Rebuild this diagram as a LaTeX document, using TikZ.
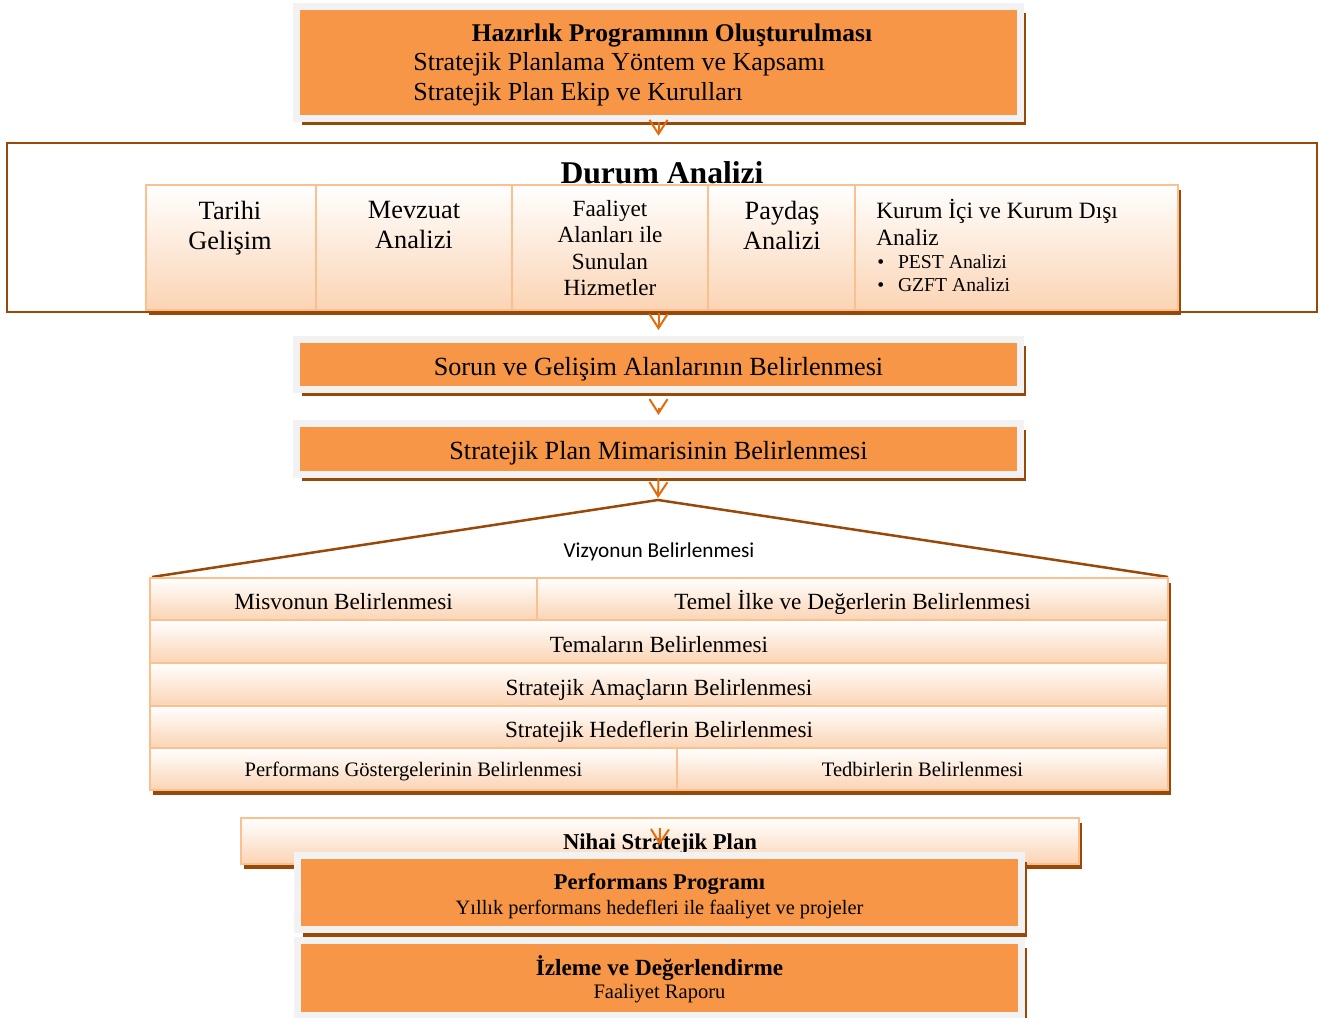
\documentclass[tikz,border=0pt]{standalone}
\usepackage{fontspec}
\setmainfont{Liberation Serif}
\newfontfamily\calibrifont{Carlito}
\usetikzlibrary{arrows.meta,positioning,shadows,calc}
\newlength\px
\setlength\px{0.2mm}
\definecolor{orng}{HTML}{F79646}
\definecolor{brn}{HTML}{984807}
\definecolor{frm}{HTML}{F2F2F2}
\definecolor{pch}{HTML}{FBD4B4}
\definecolor{pchln}{HTML}{FAC090}
\definecolor{arrc}{HTML}{E46C0A}

\begin{document}
\begin{tikzpicture}[x=0.2mm, y=-0.2mm,
  obox/.style={draw=frm, line width=1.4mm, fill=orng, inner sep=0pt, align=center,
               font=\fontsize{14.9}{17}\selectfont,
               drop shadow={fill=brn, opacity=1, shadow xshift=1mm, shadow yshift=-1.4mm}},
  cell/.style={draw=pchln, line width=0.5mm, top color=white, bottom color=pch,
               inner sep=0pt, font=\fontsize{13.2}{15}\selectfont,
               drop shadow={fill=brn, opacity=1, shadow xshift=0.6mm, shadow yshift=-1mm}},
  row/.style={cell, text height=12.5pt, text depth=0pt},
  txt/.style={inner sep=0pt, align=center, font=\fontsize{15}{17}\selectfont},
  arr/.style={draw=arrc, line width=0.4mm, -{Straight Barb[length=2.8mm, width=3.6mm]}},
  brnline/.style={draw=brn, line width=0.5mm},
]
  \useasboundingbox (0,0) rectangle (1319,1018);

  %% hazirlik
  \node[obox, minimum width=724\px, minimum height=112\px] (haz) at (658.5,62.5) {};
  \node[txt, font=\fontsize{14.5}{16}\selectfont\bfseries] (hazT) at (672,35) {Hazırlık Programının Oluşturulması};
  \node[txt, anchor=west, font=\fontsize{14.8}{17}\selectfont] (hazA) at (413,64) {Stratejik Planlama Yöntem ve Kapsamı};
  \node[txt, anchor=west, font=\fontsize{14.8}{17}\selectfont] (hazB) at (413,94) {Stratejik Plan Ekip ve Kurulları};

  %% durum analizi
  \node[brnline, fill=white, minimum width=1310\px, minimum height=169\px] (durum) at (662,227.5) {};
  \node[txt, font=\fontsize{18}{20}\selectfont\bfseries] (durumT) at (662,173) {Durum Analizi};
  \node[cell, minimum width=170\px, minimum height=125\px] (tarihi) at (231,247.5) {};
  \node[cell, minimum width=196\px, minimum height=125\px] (mevzuat) at (414,247.5) {};
  \node[cell, minimum width=196\px, minimum height=125\px] (faaliyet) at (610,247.5) {};
  \node[cell, minimum width=147\px, minimum height=125\px] (paydas) at (781.5,247.5) {};
  \node[cell, minimum width=323\px, minimum height=125\px] (kurum) at (1016.5,247.5) {};
  \node[txt, anchor=north] (tarihiT) at (230,201) {Tarihi\\Gelişim};
  \node[txt, anchor=north] (mevzuatT) at (414,201) {Mevzuat\\Analizi};
  \node[txt, anchor=north, font=\fontsize{13.2}{15}\selectfont] (faaliyetT) at (610,200)
    {Faaliyet\\Alanları ile\\Sunulan\\Hizmetler};
  \node[txt, anchor=north] (paydasT) at (782,201) {Paydaş\\Analizi};
  \node[txt, anchor=north west, align=left, font=\fontsize{13.3}{15.4}\selectfont] (kurumT) at (876,199)
    {Kurum İçi ve Kurum Dışı\\Analiz};
  \node[txt, anchor=north west, align=left, font=\fontsize{11.2}{13.6}\selectfont] (kurumL) at (877,254)
    {\textbullet\hspace{0.7em}PEST Analizi\\\textbullet\hspace{0.7em}GZFT Analizi};

  %% sorun / mimari
  \node[obox, minimum width=724\px, minimum height=50\px, text height=12pt, text depth=0pt] (sorun) at (658.5,364.5)
    {Sorun ve Gelişim Alanlarının Belirlenmesi};
  \node[obox, minimum width=724\px, minimum height=51\px, text height=12pt, text depth=0pt] (mimari) at (658.5,449)
    {Stratejik Plan Mimarisinin Belirlenmesi};

  %% vizyon catisi
  \coordinate (apex) at (658,500);
  \coordinate (catiL) at (152,577);
  \coordinate (catiR) at (1168,577);
  \draw[brnline] (catiL) -- (apex) -- (catiR);
  \node[inner sep=0pt, font=\calibrifont\fontsize{12.1}{14}\selectfont] (vizyon) at (659,552) {Vizyonun Belirlenmesi};

  %% belirleme tablosu
  \node[row, minimum width=387\px, minimum height=42\px] (misyon) at (343.5,599) {Misvonun Belirlenmesi};
  \node[row, minimum width=631\px, minimum height=42\px] (temel) at (852.5,599) {Temel İlke ve Değerlerin Belirlenmesi};
  \node[row, minimum width=1018\px, minimum height=43\px] (tema) at (659,641.5) {Temaların Belirlenmesi};
  \node[row, minimum width=1018\px, minimum height=43\px] (amac) at (659,684.5) {Stratejik Amaçların Belirlenmesi};
  \node[row, minimum width=1018\px, minimum height=42\px] (hedef) at (659,727) {Stratejik Hedeflerin Belirlenmesi};
  \node[row, minimum width=527\px, minimum height=42\px, text height=8pt, font=\fontsize{11.7}{13}\selectfont] (gosterge) at (413.5,769)
    {Performans Göstergelerinin Belirlenmesi};
  \node[row, minimum width=491\px, minimum height=42\px, text height=8pt, font=\fontsize{11.7}{13}\selectfont] (tedbir) at (922.5,769)
    {Tedbirlerin Belirlenmesi};

  %% nihai plan ve sonrasi
  \node[cell, minimum width=838\px, minimum height=46\px, text height=9.5pt, text depth=0pt,
        font=\fontsize{12.9}{14}\selectfont\bfseries] (nihai) at (660,841)
    {Nihai Stratejik Plan};
  \node[obox, minimum width=724\px, minimum height=74\px] (perf) at (659.5,892.5)
    {{\fontsize{12.8}{15}\selectfont\bfseries\rule{0pt}{13.5pt}Performans Programı}\\[-3pt]
     {\fontsize{11.6}{13}\selectfont Yıllık performans hedefleri ile faaliyet ve projeler}};
  \node[obox, minimum width=724\px, minimum height=75\px] (izleme) at (659.5,978)
    {{\fontsize{13.2}{15}\selectfont\bfseries\rule{0pt}{13pt}İzleme ve Değerlendirme}\\[-4pt]
     {\fontsize{11.7}{13}\selectfont Faaliyet Raporu}};

  %% oklar
  \draw[arr, shorten >=1.2mm] (haz.south) -- (durum.north -| haz.south);
  \draw[arr, shorten >=1.2mm] (durum.south -| haz.south) -- (sorun.north);
  \draw[arr, shorten <=3mm, shorten >=1mm] (sorun.south) -- (mimari.north);
  \draw[arr, shorten >=0.4mm] (mimari.south) -- (apex);
  \draw[arr, shorten >=1.4mm] ($(nihai.center)+(0,-13)$) -- (perf.north);
\end{tikzpicture}
\end{document}
